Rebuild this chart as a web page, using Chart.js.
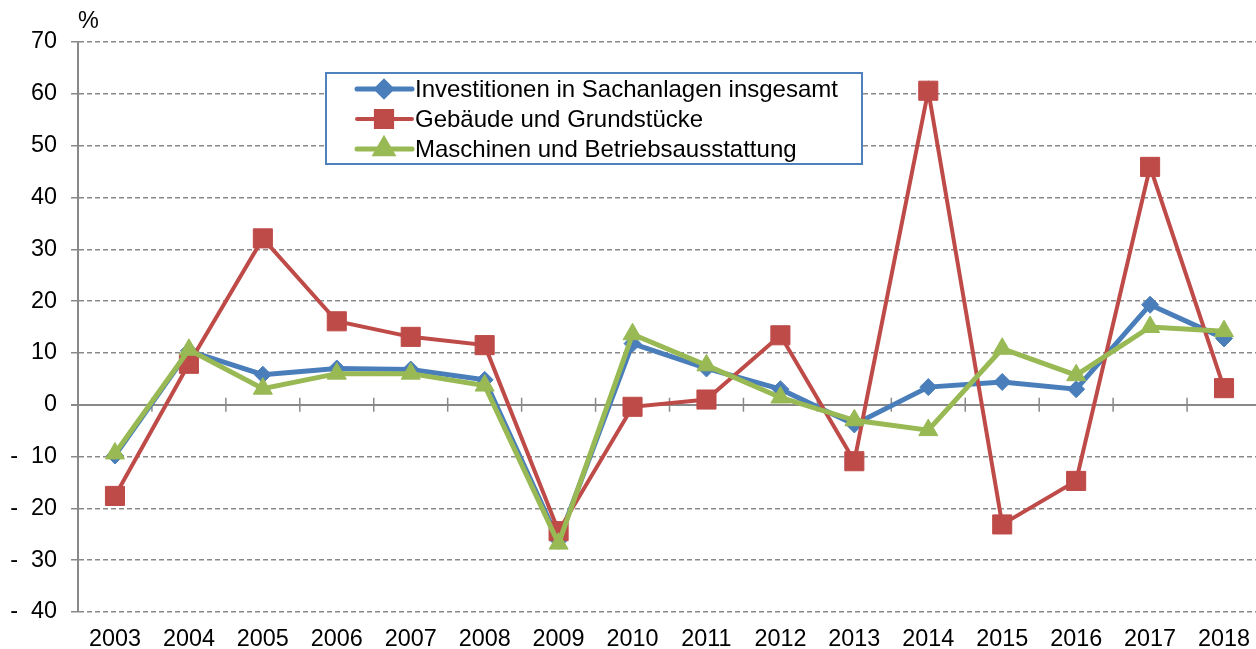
<!DOCTYPE html>
<html>
<head>
<meta charset="utf-8">
<script src="https://cdn.jsdelivr.net/npm/chart.js@4/dist/chart.umd.min.js"></script>
<style>
  html, body { margin: 0; padding: 0; background: #fff; overflow: hidden; }
  #chart { display: block; }
</style>
</head>
<body>
<canvas id="chart" width="1261" height="649"></canvas>
<script>
// years and yearly change in %
const years = ['2003','2004','2005','2006','2007','2008','2009','2010','2011','2012','2013','2014','2015','2016','2017','2018'];
const insgesamt = [-9.8, 10.4, 5.8, 7.0, 6.8, 4.8, -26.2, 11.8, 7.0, 3.0, -3.8, 3.4, 4.4, 3.0, 19.3, 12.8];
const gebaeude = [-17.6, 7.9, 32.1, 16.1, 13.1, 11.5, -24.4, -0.4, 1.0, 13.4, -10.9, 60.6, -23.1, -14.7, 45.9, 3.2];
const maschinen = [-9.4, 10.6, 3.1, 6.0, 6.0, 3.7, -26.8, 13.6, 7.6, 1.4, -3.0, -4.9, 10.8, 5.7, 15.0, 14.2];
const seriesNames = ['Investitionen in Sachanlagen insgesamt', 'Gebäude und Grundstücke', 'Maschinen und Betriebsausstattung'];

const FONT = "'Liberation Sans', Arial, sans-serif";
const FSIZE = 23.4;
const GRID = '#898989';

// category tick marks on the zero line + the "%" unit label
const axisExtras = {
  id: 'axisExtras',
  beforeDatasetsDraw(chart) {
    const { ctx, scales: { x, y } } = chart;
    const y0 = y.getPixelForValue(0);
    ctx.save();
    ctx.strokeStyle = GRID;
    ctx.lineWidth = 1.5;
    for (let i = 0; i < years.length - 1; i++) {
      const px = (x.getPixelForValue(i) + x.getPixelForValue(i + 1)) / 2;
      ctx.beginPath();
      ctx.moveTo(px, y0 - 7);
      ctx.lineTo(px, y0 + 7);
      ctx.stroke();
    }
    ctx.restore();
  },
  afterDraw(chart) {
    const { ctx, chartArea } = chart;
    ctx.save();
    ctx.font = FSIZE + 'px ' + FONT;
    ctx.fillStyle = '#000';
    ctx.textAlign = 'left';
    ctx.textBaseline = 'middle';
    ctx.fillText('%', chartArea.left, 22);
    ctx.restore();
  }
};

// boxed legend inside the plot, like the original
const boxLegend = {
  id: 'boxLegend',
  afterDraw(chart) {
    const { ctx } = chart;
    const left = 326, top = 73, w = 536, h = 91;
    ctx.save();
    ctx.fillStyle = '#fff';
    ctx.fillRect(left, top, w, h);
    ctx.strokeStyle = '#4F81BD';
    ctx.lineWidth = 2;
    ctx.strokeRect(left, top, w, h);
    ctx.font = '24px ' + FONT;
    ctx.textBaseline = 'middle';
    [0, 1, 2].forEach((k, row) => {
      const ds = chart.data.datasets.find(d => d.key === k);
      const cy = top + 16 + row * 30;
      ctx.strokeStyle = ds.borderColor;
      ctx.lineWidth = ds.borderWidth;
      ctx.lineCap = 'round';
      ctx.beginPath();
      ctx.moveTo(left + 31, cy);
      ctx.lineTo(left + 86, cy);
      ctx.stroke();
      Chart.helpers.drawPoint(ctx, {
        pointStyle: ds.pointStyle,
        radius: ds.pointRadius * 0.85,
        borderWidth: 1,
        rotation: 0
      }, left + 58, cy);
      ctx.fillStyle = ds.pointBackgroundColor;
      ctx.fill();
      ctx.fillStyle = '#000';
      ctx.fillText(seriesNames[k], left + 89, cy + 1);
    });
    ctx.restore();
  }
};

function lineSet(key, data, color, style, radius, width, order) {
  return {
    key: key,
    label: seriesNames[key],
    data: data,
    borderColor: color,
    backgroundColor: color,
    pointBackgroundColor: color,
    pointBorderColor: color,
    pointBorderWidth: 1,
    borderWidth: width,
    pointStyle: style,
    pointRadius: radius,
    tension: 0,
    order: order
  };
}

new Chart(document.getElementById('chart'), {
  type: 'line',
  data: {
    labels: years,
    datasets: [
      lineSet(0, insgesamt, '#4A7EBB', 'rectRot', 8.5, 5, 2),
      lineSet(1, gebaeude, '#BE4B48', 'rect', 13.5, 4, 1),
      lineSet(2, maschinen, '#98B954', 'triangle', 11, 5, 0)
    ]
  },
  options: {
    responsive: false,
    animation: false,
    layout: { autoPadding: false, padding: { top: 42, left: 0, right: 0, bottom: 0 } },
    plugins: {
      legend: { display: false },
      tooltip: { enabled: false }
    },
    scales: {
      x: {
        offset: true,
        grid: { display: false, drawTicks: false },
        border: { display: false },
        ticks: { color: '#000', font: { family: FONT, size: FSIZE }, padding: 14, maxRotation: 0, autoSkip: false },
        afterFit: s => { s.height = 37; s.paddingLeft = 0; s.paddingRight = 0; }
      },
      y: {
        min: -40,
        max: 70,
        ticks: {
          stepSize: 10,
          color: '#000',
          font: { family: FONT, size: FSIZE },
          padding: 14,
          callback: v => v < 0 ? '-\u00a0\u00a0' + Math.abs(v) : String(v)
        },
        grid: {
          color: GRID,
          lineWidth: c => c.tick && c.tick.value === 0 ? 2 : 1.5,
          tickLength: 7,
          tickColor: GRID
        },
        border: {
          color: GRID,
          width: 2,
          dash: c => c.tick && c.tick.value === 0 ? [] : [5, 3]
        },
        afterFit: s => { s.width = 78; }
      }
    }
  },
  plugins: [axisExtras, boxLegend]
});
</script>
</body>
</html>
